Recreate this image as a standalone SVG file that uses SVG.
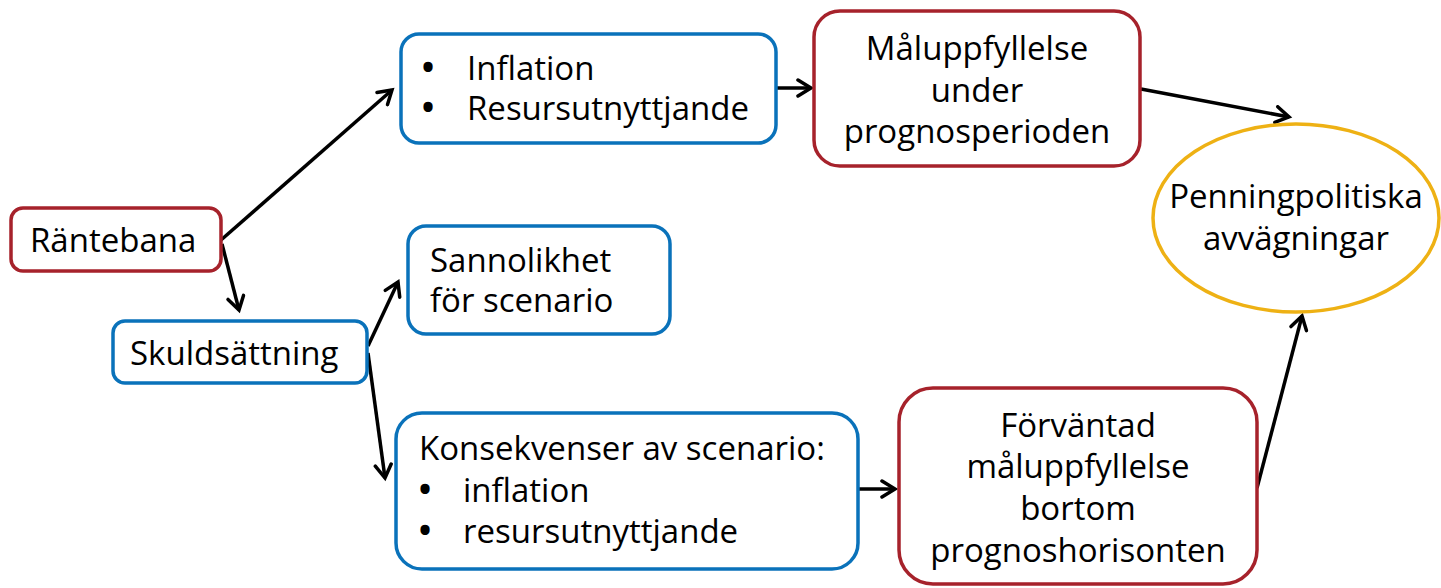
<svg xmlns="http://www.w3.org/2000/svg" width="1441" height="588" viewBox="0 0 1441 588">
<style>
.t{font-family:"Open Sans","Noto Sans","DejaVu Sans",sans-serif;font-size:33px;fill:#000}
.c{text-anchor:middle}
.b{font-size:44px}
.red{fill:#fff;stroke:#A6222B;stroke-width:3.5}
.blue{fill:#fff;stroke:#0A72BA;stroke-width:3.5}
.yel{fill:#fff;stroke:#EEB114;stroke-width:3.5}
.ln{stroke:#000;stroke-width:3.5;fill:none;marker-end:url(#ah)}
</style>
<defs>
<marker id="ah" markerUnits="userSpaceOnUse" viewBox="-16 -10 20 20" refX="0" refY="0" markerWidth="20" markerHeight="20" orient="auto">
<path d="M-13,-8 L0,0 L-13,8" fill="none" stroke="#000" stroke-width="3.5" stroke-linecap="round" stroke-linejoin="miter"/>
</marker>
</defs>
<rect width="1441" height="588" fill="#fff"/>
<g id="connectors">
<line class="ln" x1="221" y1="240" x2="392" y2="90"/>
<line class="ln" x1="222" y1="244" x2="239" y2="310"/>
<line class="ln" x1="368" y1="346" x2="398" y2="282"/>
<line class="ln" x1="368" y1="353" x2="385" y2="478"/>
<line class="ln" x1="777" y1="88" x2="811" y2="88"/>
<line class="ln" x1="1141" y1="89" x2="1289" y2="117"/>
<line class="ln" x1="858" y1="489" x2="895" y2="489"/>
<line class="ln" x1="1257" y1="488" x2="1302" y2="316"/>
</g>
<g id="rantebana">
<rect class="red" x="11" y="208" width="210" height="63" rx="12"/>
<text class="t" x="30" y="252">Räntebana</text>
</g>
<g id="skuldsattning">
<rect class="blue" x="113" y="321" width="254" height="62" rx="12"/>
<text class="t" x="130" y="365">Skuldsättning</text>
</g>
<g id="inflation">
<rect class="blue" x="401" y="34" width="375" height="109" rx="18"/>
<text class="t"><tspan class="b c" x="428" y="83">•</tspan><tspan x="467" y="80">Inflation</tspan><tspan class="b c" x="428" y="123">•</tspan><tspan x="467" y="120">Resursutnyttjande</tspan></text>
</g>
<g id="sannolikhet">
<rect class="blue" x="408" y="226" width="262" height="108" rx="18"/>
<text class="t"><tspan x="430" y="272">Sannolikhet</tspan><tspan x="430" y="312">för scenario</tspan></text>
</g>
<g id="konsekvenser">
<rect class="blue" x="396" y="413" width="462" height="156" rx="26"/>
<text class="t"><tspan x="419" y="460">Konsekvenser av scenario:</tspan><tspan class="b c" x="425" y="505">•</tspan><tspan x="463" y="502">inflation</tspan><tspan class="b c" x="425" y="546">•</tspan><tspan x="463" y="543">resursutnyttjande</tspan></text>
</g>
<g id="maluppfyllelse">
<rect class="red" x="814" y="11" width="326" height="155" rx="26"/>
<text class="t c"><tspan x="977" y="60">Måluppfyllelse</tspan><tspan x="977" y="102">under</tspan><tspan x="977" y="143">prognosperioden</tspan></text>
</g>
<g id="forvantad">
<rect class="red" x="899" y="388" width="358" height="196" rx="34"/>
<text class="t c"><tspan x="1078" y="437">Förväntad</tspan><tspan x="1078" y="478">måluppfyllelse</tspan><tspan x="1078" y="520">bortom</tspan><tspan x="1078" y="562">prognoshorisonten</tspan></text>
</g>
<g id="penningpolitiska">
<ellipse class="yel" cx="1296" cy="218" rx="143" ry="94"/>
<text class="t c"><tspan x="1296" y="208">Penningpolitiska</tspan><tspan x="1296" y="250">avvägningar</tspan></text>
</g>
</svg>
